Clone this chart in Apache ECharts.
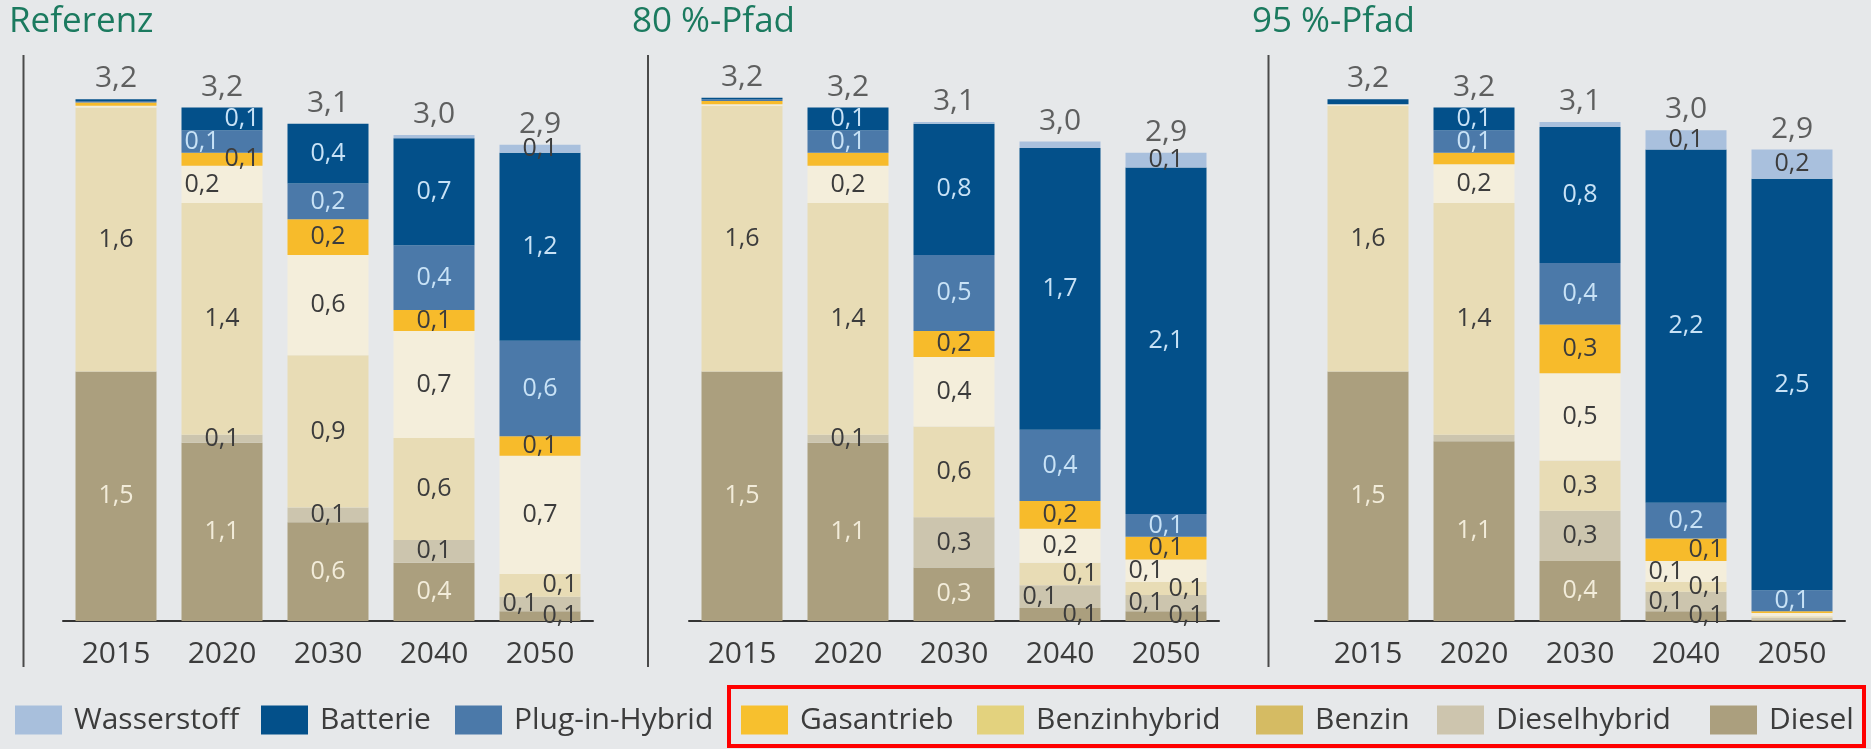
<!DOCTYPE html>
<html><head><meta charset="utf-8">
<script src="https://cdn.jsdelivr.net/npm/echarts@6/dist/echarts.min.js"></script>
<style>html,body{margin:0;padding:0;background:#e6e8ea;}#c{width:1871px;height:749px;}</style>
</head><body><div id="c"></div>
<script>
// ---- data ----
const categories = ['2015', '2020', '2030', '2040', '2050'];
const scenarios = ['Referenz', '80 %-Pfad', '95 %-Pfad'];
const stackOrder = ['Diesel', 'Dieselhybrid', 'Benzin', 'Benzinhybrid', 'Gasantrieb', 'Plug-in-Hybrid', 'Batterie', 'Wasserstoff'];
const legendOrder = ['Wasserstoff', 'Batterie', 'Plug-in-Hybrid', 'Gasantrieb', 'Benzinhybrid', 'Benzin', 'Dieselhybrid', 'Diesel'];

const referenz = {
  'Diesel':         [1.54, 1.10, 0.61, 0.36, 0.06],
  'Dieselhybrid':   [0.00, 0.05, 0.09, 0.14, 0.09],
  'Benzin':         [1.63, 1.43, 0.94, 0.63, 0.14],
  'Benzinhybrid':   [0.01, 0.23, 0.62, 0.66, 0.73],
  'Gasantrieb':     [0.02, 0.08, 0.22, 0.13, 0.12],
  'Plug-in-Hybrid': [0.01, 0.14, 0.22, 0.40, 0.59],
  'Batterie':       [0.01, 0.14, 0.37, 0.66, 1.16],
  'Wasserstoff':    [0.00, 0.00, 0.00, 0.02, 0.05]
};
const pfad80 = {
  'Diesel':         [1.54, 1.10, 0.33, 0.08, 0.06],
  'Dieselhybrid':   [0.00, 0.05, 0.31, 0.14, 0.10],
  'Benzin':         [1.64, 1.43, 0.56, 0.14, 0.08],
  'Benzinhybrid':   [0.01, 0.23, 0.43, 0.21, 0.14],
  'Gasantrieb':     [0.02, 0.08, 0.16, 0.17, 0.14],
  'Plug-in-Hybrid': [0.01, 0.14, 0.47, 0.44, 0.14],
  'Batterie':       [0.01, 0.14, 0.81, 1.74, 2.14],
  'Wasserstoff':    [0.00, 0.00, 0.01, 0.04, 0.09]
};
const pfad95 = {
  'Diesel':         [1.54, 1.11, 0.37, 0.06, 0.01],
  'Dieselhybrid':   [0.00, 0.04, 0.31, 0.12, 0.01],
  'Benzin':         [1.64, 1.43, 0.31, 0.06, 0.01],
  'Benzinhybrid':   [0.01, 0.24, 0.54, 0.13, 0.02],
  'Gasantrieb':     [0.00, 0.07, 0.30, 0.14, 0.01],
  'Plug-in-Hybrid': [0.00, 0.14, 0.38, 0.22, 0.13],
  'Batterie':       [0.03, 0.14, 0.84, 2.18, 2.54],
  'Wasserstoff':    [0.00, 0.00, 0.03, 0.12, 0.18]
};
const scenarioData = [referenz, pfad80, pfad95];
// labels not printed in the original
const hiddenLabels = [['80 %-Pfad', 'Gasantrieb', 1], ['95 %-Pfad', 'Gasantrieb', 1]];

// ---- styles ----
const barColors = {
  'Diesel': '#ab9f7e', 'Dieselhybrid': '#ccc5ae', 'Benzin': '#e8dcb5', 'Benzinhybrid': '#f4eedb',
  'Gasantrieb': '#f7bb2b', 'Plug-in-Hybrid': '#4b79a9', 'Batterie': '#03508a', 'Wasserstoff': '#a9c0dd'
};
const legendColors = {
  'Wasserstoff': '#a8bfdc', 'Batterie': '#03508a', 'Plug-in-Hybrid': '#4b79a9', 'Gasantrieb': '#f7c02e',
  'Benzinhybrid': '#e3d27e', 'Benzin': '#d5bb63', 'Dieselhybrid': '#cdc5ae', 'Diesel': '#ab9f7e'
};
const labelSide = {
  'Referenz': { 'Batterie': {1: 'right'}, 'Plug-in-Hybrid': {1: 'left'}, 'Gasantrieb': {1: 'right'},
                'Benzinhybrid': {1: 'left'}, 'Benzin': {4: 'right'}, 'Dieselhybrid': {4: 'left'}, 'Diesel': {4: 'right'} },
  '80 %-Pfad': { 'Benzinhybrid': {4: 'left'}, 'Benzin': {3: 'right', 4: 'right'},
                 'Dieselhybrid': {3: 'left', 4: 'left'}, 'Diesel': {3: 'right', 4: 'right'} },
  '95 %-Pfad': { 'Gasantrieb': {3: 'right'}, 'Benzinhybrid': {3: 'left'}, 'Benzin': {3: 'right'},
                 'Dieselhybrid': {3: 'left'}, 'Diesel': {3: 'right'} }
};
const gridLeft = [63, 689, 1315];
const titleLeft = [9, 632, 1252];
const sepX = [23.5, 648, 1268.5];
const legendX = [15, 261, 455, 741, 977, 1256, 1437, 1710];
const FONT = 'Open Sans';
const DARK = '#3c3c3c';

const round1 = v => Math.round(v * 10 + 1e-9) / 10;
const fmt = v => round1(v).toFixed(1).replace('.', ',');

const grids = [], xAxes = [], yAxes = [], series = [], titles = [];
scenarios.forEach((sc, gi) => {
  grids.push({ left: gridLeft[gi], width: 530, top: 54, height: 567 });
  xAxes.push({
    type: 'category', gridIndex: gi, data: categories,
    axisLine: { lineStyle: { color: '#333', width: 2 } },
    axisTick: { show: false },
    axisLabel: { fontSize: 30, color: DARK, fontFamily: FONT, margin: 18 }
  });
  yAxes.push({ type: 'value', gridIndex: gi, min: 0, max: 3.5, show: false });
  titles.push({ text: sc, left: titleLeft[gi], top: 5, padding: 0,
    textStyle: { fontSize: 35, fontWeight: 'normal', color: '#1b7a5f', fontFamily: FONT } });
  const d = scenarioData[gi];
  stackOrder.forEach(name => {
    series.push({
      type: 'bar', name, stack: 'S' + gi, xAxisIndex: gi, yAxisIndex: gi,
      barWidth: 81, itemStyle: { color: barColors[name] },
      label: { show: true, fontSize: 25, fontFamily: FONT, formatter: p => fmt(p.value) },
      data: d[name].map((v, j) => {
        const hidden = hiddenLabels.some(h => h[0] === sc && h[1] === name && h[2] === j);
        const side = (labelSide[sc][name] || {})[j];
        let color = DARK;
        if (name === 'Batterie' || name === 'Plug-in-Hybrid') color = '#c8e2f6';
        if (name === 'Diesel' && v >= 0.2) color = '#f2ecda';
        return {
          value: v,
          label: {
            show: !hidden && round1(v) > 0,
            position: side === 'left' ? 'insideLeft' : side === 'right' ? 'insideRight' : 'inside',
            distance: 3, color
          }
        };
      })
    });
  });
  const totals = categories.map((c, j) => stackOrder.reduce((s, n) => s + d[n][j], 0));
  series.push({
    type: 'scatter', name: 'Summe', xAxisIndex: gi, yAxisIndex: gi, silent: true, z: 10,
    symbolSize: 1, itemStyle: { color: 'rgba(0,0,0,0)' },
    label: { show: true, position: 'top', distance: 5, fontSize: 30, color: DARK, fontFamily: FONT,
      formatter: p => fmt(p.value[1]) },
    data: totals.map((t, j) => [categories[j], t])
  });
});

const legends = legendOrder.map((name, i) => ({
  left: legendX[i], top: 705, padding: 0, itemGap: 0, itemWidth: 47, itemHeight: 29, icon: 'rect',
  selectedMode: false,
  textStyle: { fontSize: 30, color: DARK, fontFamily: FONT, padding: [0, 0, 0, 7] },
  data: [{ name, itemStyle: { color: legendColors[name] } }]
}));

const graphics = sepX.map(x => ({
  type: 'line', shape: { x1: x, y1: 55, x2: x, y2: 667 }, style: { stroke: '#4a4a4a', lineWidth: 2 }, silent: true
}));
graphics.push({ type: 'rect', shape: { x: 729, y: 687, width: 1135, height: 59 },
  style: { fill: 'none', stroke: '#ff0000', lineWidth: 4 }, silent: true });

const chart = echarts.init(document.getElementById('c'), null, { renderer: 'canvas' });
chart.setOption({
  backgroundColor: '#e6e8ea',
  animation: false,
  title: titles,
  grid: grids, xAxis: xAxes, yAxis: yAxes,
  legend: legends,
  series,
  graphic: graphics
});
</script></body></html>
